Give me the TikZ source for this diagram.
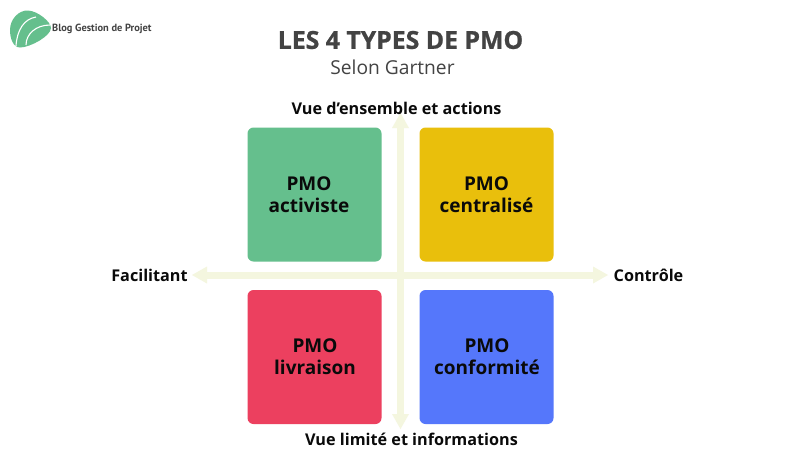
\documentclass[tikz,border=0pt]{standalone}
\usepackage{fontspec}
\setmainfont{Open Sans}
\newfontfamily\logofont{PT Sans}
\newfontfamily\titlefont[BoldFeatures={FakeBold=0.8}]{Open Sans}
\usetikzlibrary{calc}
\definecolor{axisc}{HTML}{F4F6DF}
\definecolor{txt}{HTML}{0A0A0A}
\definecolor{ttl}{HTML}{434343}
\definecolor{greenq}{HTML}{65BF8D}
\definecolor{yellowq}{HTML}{E9BF0C}
\definecolor{redq}{HTML}{EC405F}
\definecolor{blueq}{HTML}{5577FB}
\definecolor{logog}{HTML}{65BF8D}
\tikzset{
 x=1pt,y=-1pt,
 quad/.style={rounded corners=6pt,minimum width=134pt,minimum height=134pt,inner sep=0pt},
 quadtext/.style={inner sep=0pt,align=center,font=\fontsize{19}{21.7}\selectfont\bfseries,text=txt},
 axlabel/.style={font=\fontsize{16.2}{19}\selectfont\bfseries,text=txt,inner sep=0pt},
 axisline/.style={draw=axisc,line width=7pt},
 axishead/.style={fill=axisc,draw=none}
}
\begin{document}
\begin{tikzpicture}
\useasboundingbox (0,0) rectangle (811,456);
\fill[white] (0,0) rectangle (811,456);
% axes
\coordinate (T) at (400.5,113);
\coordinate (B) at (400.5,429);
\coordinate (L) at (192,275);
\coordinate (R) at (608,275);
\draw[axisline] ($(T)+(0,10)$) -- ($(B)+(0,-10)$);
\draw[axisline] ($(L)+(10,0)$) -- ($(R)+(-10,0)$);
\fill[axishead] (T) -- ++(8.5,15) -- ++(-17,0) -- cycle;
\fill[axishead] (B) -- ++(8.5,-15) -- ++(-17,0) -- cycle;
\fill[axishead] (L) -- ++(15,-8.5) -- ++(0,17) -- cycle;
\fill[axishead] (R) -- ++(-15,-8.5) -- ++(0,17) -- cycle;
% quadrants
\node[quad,fill=greenq] (a) at (314.5,194.5) {};
\node[quad,fill=yellowq] (c) at (486.5,194.5) {};
\node[quad,fill=redq] (l) at (314.5,357) {};
\node[quad,fill=blueq] (f) at (486.5,357) {};
\node[quadtext] (at) at (309,194.5) {PMO\\activiste};
\node[quadtext] (ct) at (486.5,195) {PMO\\centralisé};
\node[quadtext] (lt) at (315,357) {PMO\\livraison};
\node[quadtext] (ft) at (487,357) {PMO\\conformité};
% labels
\node[font=\fontsize{24.8}{28}\selectfont\titlefont\bfseries,text=ttl,inner sep=0pt] (t) at (400.5,40) {LES 4 TYPES DE PMO};
\node[font=\fontsize{19.2}{22}\selectfont,text=ttl,inner sep=0pt] (s) at (392.5,67) {Selon Gartner};
\node[axlabel] (v1) at (396.5,108) {Vue d’ensemble et actions};
\node[axlabel] (v2) at (411.5,439) {Vue limité et informations};
\node[axlabel] (h1) at (149.5,275) {Facilitant};
\node[axlabel] (h2) at (648.5,275) {Contrôle};
% logo
\fill[logog] (10,30) .. controls (10,19) and (19,10) .. (28,10.5) .. controls (38,11) and (51,22) .. (51,28) .. controls (51,36) and (30,47.5) .. (20,47.5) .. controls (13,47.5) and (10,38) .. (10,30) -- cycle;
\draw[white,line width=1.1pt] (16,46) .. controls (17,30) and (24,19) .. (36,17);
\draw[white,line width=1.1pt] (26,45) .. controls (26,34) and (36,25) .. (50,25);
\node[font=\fontsize{10.4}{12}\selectfont\bfseries\logofont,text=ttl,inner sep=0pt,anchor=west] (lg) at (52,29) {Blog Gestion de Projet};
\end{tikzpicture}
\end{document}
